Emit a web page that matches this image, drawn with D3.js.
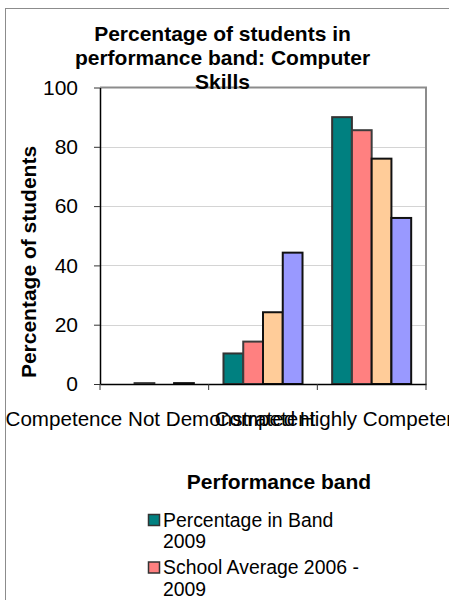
<!DOCTYPE html>
<html>
<head>
<meta charset="utf-8">
<script src="https://cdn.jsdelivr.net/npm/d3@7"></script>
<style>
  html, body { margin: 0; padding: 0; background: #fff; }
  svg { display: block; font-family: "Liberation Sans", Arial, sans-serif; }
</style>
</head>
<body>
<svg id="chart" width="449" height="600"></svg>
<script>
// ---- data ----
const categories = ["Competence Not Demonstrated", "Competent", "Highly Competent"];
const seriesNames = ["Percentage in Band 2009", "School Average 2006 - 2009", "Series 3", "Series 4"];
const legendLines = [["Percentage in Band", "2009"], ["School Average 2006 -", "2009"], ["Series 3"], ["Series 4"]];
const seriesValues = [
  [0, 10.3, 90],    // Percentage in Band 2009
  [0.3, 14.3, 85.6],// School Average 2006 - 2009
  [0, 24.2, 76],    // Series 3
  [0.3, 44.3, 56]   // Series 4
];
const yTicks = [0, 20, 40, 60, 80, 100];
const titleLines = ["Percentage of students in", "performance band: Computer", "Skills"];
const yAxisTitle = "Percentage of students";
const xAxisTitle = "Performance band";

// ---- styles ----
const fills = ["#008080", "#FF8080", "#FFCC99", "#9999FF"];
const strokes = ["#333333", "#3c3c3c", "#111111", "#111111"];
const labelDx = [-4, 2, 10];

const svg = d3.select("#chart");

// outer chart frame
svg.append("rect")
  .attr("x", 5.5).attr("y", 8.5)
  .attr("width", 460).attr("height", 620)
  .attr("fill", "none").attr("stroke", "#8c8c8c").attr("stroke-width", 1);

const plot = { left: 100, right: 426, top: 87.5, bottom: 384 };

const x0 = d3.scaleBand().domain(categories).range([plot.left, plot.right]).padding(0);
const bw = x0.bandwidth();
const barW = bw / 5.5;
const x1 = d3.scaleBand().domain(d3.range(seriesNames.length))
  .range([barW * 0.75, bw - barW * 0.75]).padding(0);
const y = d3.scaleLinear().domain([0, 100]).range([plot.bottom, plot.top]);

// gridlines
svg.append("g").selectAll("line")
  .data(yTicks.filter(t => t > 0 && t < 100))
  .join("line")
  .attr("x1", plot.left).attr("x2", plot.right)
  .attr("y1", d => Math.round(y(d)) + 0.5).attr("y2", d => Math.round(y(d)) + 0.5)
  .attr("stroke", "#d4d4d4").attr("stroke-width", 1);

// plot area border (top & right grey)
svg.append("path")
  .attr("d", `M${plot.left},${plot.top}H${plot.right}V${plot.bottom}`)
  .attr("fill", "none").attr("stroke", "#8c8c8c").attr("stroke-width", 2);

// bars
const barData = [];
seriesValues.forEach((vals, si) => vals.forEach((v, ci) => {
  if (v > 0) barData.push({ si, ci, v });
}));
svg.append("g").selectAll("rect")
  .data(barData)
  .join("rect")
  .attr("x", d => x0(categories[d.ci]) + x1(d.si))
  .attr("width", x1.bandwidth())
  .attr("y", d => y(d.v))
  .attr("height", d => y(0) - y(d.v))
  .attr("fill", d => fills[d.si])
  .attr("stroke", d => strokes[d.si])
  .attr("stroke-width", 2);

// y axis
const yAxis = svg.append("g")
  .attr("transform", `translate(${plot.left},0)`)
  .call(d3.axisLeft(y).tickValues(yTicks).tickSize(6).tickPadding(16).tickSizeOuter(0));
yAxis.select(".domain").attr("stroke", "#000").attr("stroke-width", 1.5);
yAxis.selectAll(".tick line").attr("stroke", "#333");
yAxis.selectAll("text")
  .attr("font-size", "21px").attr("fill", "#000")
  .attr("font-family", "Liberation Sans, Arial, sans-serif");

// x axis
const xAxis = svg.append("g")
  .attr("transform", `translate(0,${plot.bottom})`)
  .call(d3.axisBottom(x0).tickSize(0).tickSizeOuter(0));
xAxis.select(".domain").attr("stroke", "#000").attr("stroke-width", 1.5);
// tick marks at category boundaries
xAxis.append("g").selectAll("line")
  .data(d3.range(categories.length + 1))
  .join("line")
  .attr("x1", i => plot.left + i * bw).attr("x2", i => plot.left + i * bw)
  .attr("y1", 0).attr("y2", 6)
  .attr("stroke", "#333").attr("stroke-width", 1);
xAxis.selectAll(".tick text")
  .attr("y", 41.5).attr("dy", 0)
  .attr("dx", (d, i) => labelDx[i])
  .attr("font-size", "20.6px").attr("fill", "#000")
  .attr("font-family", "Liberation Sans, Arial, sans-serif");

// y axis title
svg.append("text")
  .attr("transform", "translate(36,262) rotate(-90)")
  .attr("text-anchor", "middle")
  .attr("font-size", "21px").attr("font-weight", "bold")
  .text(yAxisTitle);

// x axis title
svg.append("text")
  .attr("x", 279).attr("y", 488.5)
  .attr("text-anchor", "middle")
  .attr("font-size", "21px").attr("font-weight", "bold")
  .text(xAxisTitle);

// legend
const leg = svg.append("g");
seriesNames.forEach((name, i) => {
  const top = 514.5 + i * 47.5;
  leg.append("rect")
    .attr("x", 148.5).attr("y", top)
    .attr("width", 11).attr("height", 11)
    .attr("fill", fills[i]).attr("stroke", "#333").attr("stroke-width", 1.5);
  const t = leg.append("text")
    .attr("x", 163).attr("y", top + 12)
    .attr("font-size", "19.4px");
  legendLines[i].forEach((ln, j) => {
    t.append("tspan").attr("x", 163).attr("dy", j === 0 ? 0 : 21.6).text(ln);
  });
});

// chart title
const title = svg.append("text")
  .attr("text-anchor", "middle")
  .attr("font-size", "21px").attr("font-weight", "bold");
titleLines.forEach((ln, i) => {
  title.append("tspan").attr("x", 222.5).attr("y", 40.7 + i * 24.3).text(ln);
});
</script>
</body>
</html>
